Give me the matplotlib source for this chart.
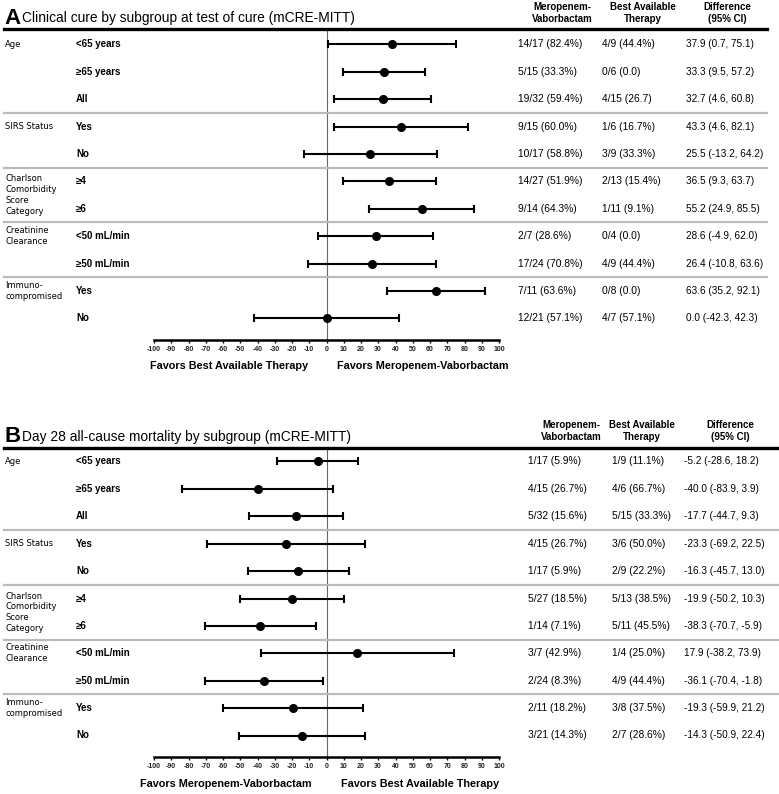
"""
    Forest plots: clinical cure and day 28 mortality by subgroup
"""

import numpy as np
import matplotlib
matplotlib.use("Agg")
import matplotlib.pyplot as plt
from matplotlib import transforms
from matplotlib.lines import Line2D

plt.rcParams['font.family'] = ['Liberation Sans', 'DejaVu Sans']

# ---- data ----
subgroups = ['<65 years', '\u226565 years', 'All', 'Yes', 'No', '\u22654', '\u22656',
             '<50 mL/min', '\u226550 mL/min', 'Yes', 'No']
group_names = ['Age', 'SIRS Status', 'Charlson\nComorbidity\nScore\nCategory',
               'Creatinine\nClearance', 'Immuno-\ncompromised']
group_sizes = [3, 2, 2, 2, 2]

cure_est = np.array([37.9, 33.3, 32.7, 43.3, 25.5, 36.5, 55.2, 28.6, 26.4, 63.6, 0.0])
cure_lo = np.array([0.7, 9.5, 4.6, 4.6, -13.2, 9.3, 24.9, -4.9, -10.8, 35.2, -42.3])
cure_hi = np.array([75.1, 57.2, 60.8, 82.1, 64.2, 63.7, 85.5, 62.0, 63.6, 92.1, 42.3])
cure_mero = ['14/17 (82.4%)', '5/15 (33.3%)', '19/32 (59.4%)', '9/15 (60.0%)', '10/17 (58.8%)',
             '14/27 (51.9%)', '9/14 (64.3%)', '2/7 (28.6%)', '17/24 (70.8%)', '7/11 (63.6%)',
             '12/21 (57.1%)']
cure_bat = ['4/9 (44.4%)', '0/6 (0.0)', '4/15 (26.7)', '1/6 (16.7%)', '3/9 (33.3%)',
            '2/13 (15.4%)', '1/11 (9.1%)', '0/4 (0.0)', '4/9 (44.4%)', '0/8 (0.0)', '4/7 (57.1%)']

mort_est = np.array([-5.2, -40.0, -17.7, -23.3, -16.3, -19.9, -38.3, 17.9, -36.1, -19.3, -14.3])
mort_lo = np.array([-28.6, -83.9, -44.7, -69.2, -45.7, -50.2, -70.7, -38.2, -70.4, -59.9, -50.9])
mort_hi = np.array([18.2, 3.9, 9.3, 22.5, 13.0, 10.3, -5.9, 73.9, -1.8, 21.2, 22.4])
mort_mero = ['1/17 (5.9%)', '4/15 (26.7%)', '5/32 (15.6%)', '4/15 (26.7%)', '1/17 (5.9%)',
             '5/27 (18.5%)', '1/14 (7.1%)', '3/7 (42.9%)', '2/24 (8.3%)', '2/11 (18.2%)',
             '3/21 (14.3%)']
mort_bat = ['1/9 (11.1%)', '4/6 (66.7%)', '5/15 (33.3%)', '3/6 (50.0%)', '2/9 (22.2%)',
            '5/13 (38.5%)', '5/11 (45.5%)', '1/4 (25.0%)', '4/9 (44.4%)', '3/8 (37.5%)',
            '2/7 (28.6%)']

headers = ['Meropenem-\nVaborbactam', 'Best Available\nTherapy', 'Difference\n(95% CI)']
xticks = list(range(-100, 101, 10))

W, H = 779, 794
ROW_STEP = 27.4

fig = plt.figure(figsize=(W / 100, H / 100), dpi=100)


def fx(px):
    return px / W


def fy(py):
    return 1 - py / H


def panel(letter, title, est, lo, hi, mero, bat, favors, lay):
    top, bottom, row0 = lay['top'], lay['axis'], lay['row0']
    ax = fig.add_axes([fx(154), fy(bottom), fx(499) - fx(154), (bottom - top) / H])
    ax.set_xlim(-100, 100)
    ax.set_ylim((bottom - row0) / ROW_STEP, (top - row0) / ROW_STEP)
    rows = np.arange(len(est))

    ax.axvline(0, color='#666666', lw=0.8, zorder=0)
    ax.errorbar(est, rows, xerr=[est - lo, hi - est], fmt='o', color='black',
                ms=5.5, lw=1.5, capsize=3, capthick=1.5)

    for s in ['top', 'right', 'left']:
        ax.spines[s].set_visible(False)
    ax.spines['bottom'].set_linewidth(1.8)
    ax.set_yticks([])
    ax.set_xticks(xticks)
    ax.set_xticklabels([str(t) for t in xticks], fontsize=5, fontweight='bold', color='#222222')
    ax.tick_params(axis='x', direction='out', length=2.5, width=1, pad=1.5)

    trans = transforms.blended_transform_factory(fig.transFigure, ax.transData)

    for r, lab in enumerate(subgroups):
        ax.text(fx(76), r, lab, transform=trans, ha='left', va='center',
                fontsize=7, fontweight='bold')
        ax.text(fx(lay['cols'][0]), r, mero[r], transform=trans, ha='left', va='center', fontsize=7.4)
        ax.text(fx(lay['cols'][1]), r, bat[r], transform=trans, ha='left', va='center', fontsize=7.4)
        ax.text(fx(lay['cols'][2]), r, f"{est[r]:.1f} ({lo[r]:.1f}, {hi[r]:.1f})",
                transform=trans, ha='left', va='center', fontsize=7.2)

    first = 0
    for name, size in zip(group_names, group_sizes):
        nlines = name.count('\n') + 1
        y = first + (size - 1) / 2 if nlines > 2 else first
        ax.text(fx(5), y, name, transform=trans, ha='left', va='center',
                fontsize=6, family=['DejaVu Sans'], linespacing=1.25)
        if first > 0:
            ax.add_line(Line2D([fx(4), fx(lay['end'])], [first - 0.5] * 2, transform=trans,
                               color='#bbbbbb', lw=1.6, clip_on=False))
        first += size

    fig.add_artist(Line2D([fx(4), fx(lay['end'])], [fy(top)] * 2, color='black', lw=2.4))

    fig.text(fx(4), fy(lay['title']), letter, fontsize=16, fontweight='bold', va='center')
    fig.text(fx(22), fy(lay['title']), title, fontsize=9.9, va='center')
    for hx, h in zip(lay['heads'], headers):
        fig.text(fx(hx), fy(lay['head']), h, ha='center', va='center', fontsize=7,
                 fontweight='bold', linespacing=1.35)
    for cx, f in zip(lay['favors_x'], favors):
        fig.text(fx(cx), fy(lay['favors_y']), f, ha='center', va='center',
                 fontsize=7.8, fontweight='bold')


lay_a = dict(top=29, axis=340, row0=44.4, head=13, title=18, favors_y=366,
             cols=(518, 602, 686), heads=(562, 643, 727), favors_x=(229, 423), end=767)
lay_b = dict(top=448, axis=757, row0=461.5, head=431, title=437, favors_y=784,
             cols=(528, 612, 684), heads=(571, 642, 730), favors_x=(226, 420), end=778)

panel('A', 'Clinical cure by subgroup at test of cure (mCRE-MITT)',
      cure_est, cure_lo, cure_hi, cure_mero, cure_bat,
      ['Favors Best Available Therapy', 'Favors Meropenem-Vaborbactam'], lay_a)
panel('B', 'Day 28 all-cause mortality by subgroup (mCRE-MITT)',
      mort_est, mort_lo, mort_hi, mort_mero, mort_bat,
      ['Favors Meropenem-Vaborbactam', 'Favors Best Available Therapy'], lay_b)

fig.savefig('out.png', dpi=100)
